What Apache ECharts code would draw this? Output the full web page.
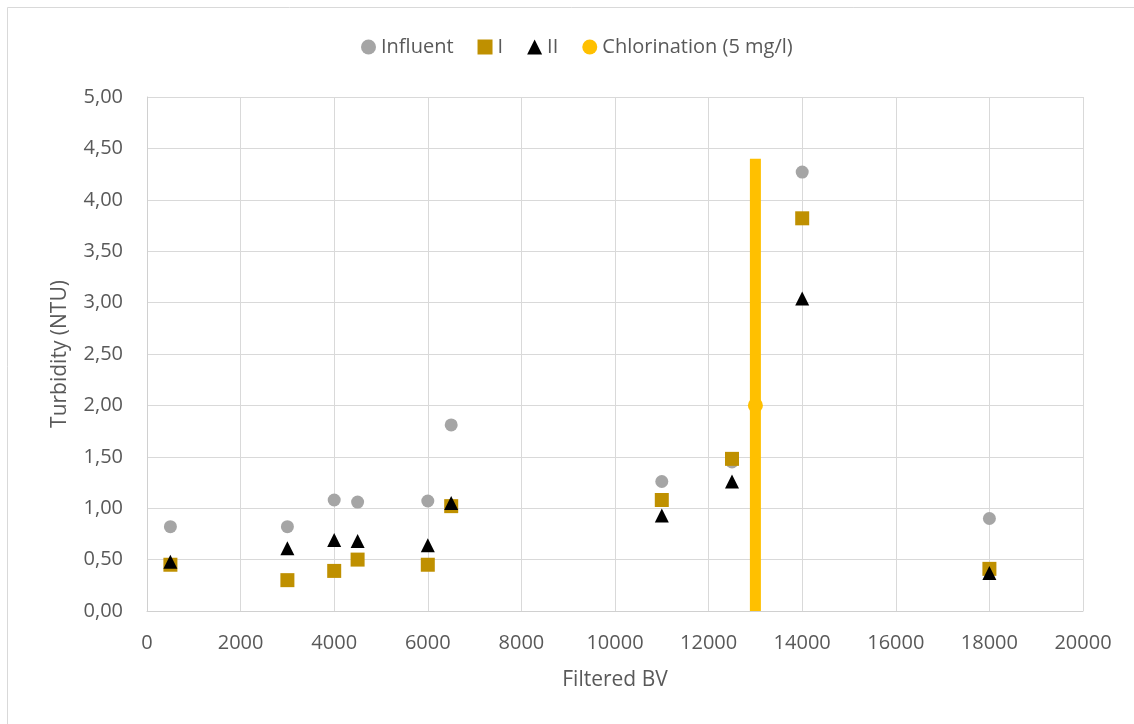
<!DOCTYPE html>
<html><head><meta charset="utf-8">
<script src="https://cdn.jsdelivr.net/npm/echarts@6/dist/echarts.min.js"></script>
<style>html,body{margin:0;padding:0;background:#fff}#c{width:1134px;height:724px}</style>
</head><body><div id="c"></div>
<script>
const bv = [500, 3000, 4000, 4500, 6000, 6500, 11000, 12500, 14000, 18000];
const influent = [0.82, 0.82, 1.08, 1.06, 1.07, 1.81, 1.26, 1.45, 4.27, 0.90];
const seriesI = [0.45, 0.30, 0.39, 0.50, 0.45, 1.02, 1.08, 1.48, 3.82, 0.41];
const seriesII = [0.48, 0.61, 0.69, 0.68, 0.64, 1.05, 0.93, 1.26, 3.04, 0.37];
const chlorX = 13000;
const chlorValue = 2.00;
const chlorLow = 0.00;
const chlorHigh = 4.40;

const pairs = (xs, ys) => xs.map((x, i) => [x, ys[i]]);
const font = 'Open Sans, Liberation Sans, sans-serif';
const txt = '#595959';

const chart = echarts.init(document.getElementById('c'));
chart.setOption({
  animation: false,
  backgroundColor: '#fff',
  graphic: [{ type: 'rect', shape: { x: 7.5, y: 7.5, width: 1140, height: 720 }, style: { fill: 'none', stroke: '#d9d9d9', lineWidth: 1 }, silent: true }],
  legend: {
    top: 32, left: 356, itemGap: 24, itemWidth: 15, itemHeight: 15,
    textStyle: { fontFamily: font, fontSize: 20, color: txt },
    data: [
      { name: 'Influent', icon: 'circle' },
      { name: 'I', icon: 'rect' },
      { name: 'II', icon: 'triangle' },
      { name: 'Chlorination (5 mg/l)', icon: 'circle' }
    ]
  },
  grid: { left: 147, right: 51, top: 97, bottom: 113, containLabel: false },
  xAxis: {
    type: 'value', min: 0, max: 20000, interval: 2000,
    name: 'Filtered BV', nameLocation: 'middle', nameGap: 59,
    nameTextStyle: { fontFamily: font, fontSize: 21, color: txt },
    axisLine: { show: true, lineStyle: { color: '#d0d0d0', width: 1 } },
    axisTick: { show: false },
    axisLabel: { fontFamily: font, fontSize: 20, color: txt, margin: 22, formatter: v => String(v) },
    splitLine: { show: true, lineStyle: { color: '#d9d9d9', width: 1 } }
  },
  yAxis: {
    type: 'value', min: 0, max: 5, interval: 0.5,
    name: 'Turbidity (NTU)', nameLocation: 'middle', nameGap: 76, nameRotate: 90,
    nameTextStyle: { fontFamily: font, fontSize: 21, color: txt },
    axisLine: { show: true, lineStyle: { color: '#d0d0d0', width: 1 } },
    axisTick: { show: false },
    axisLabel: { fontFamily: font, fontSize: 20, color: txt, margin: 24,
      formatter: v => v.toFixed(2).replace('.', ',') },
    splitLine: { show: true, lineStyle: { color: '#d9d9d9', width: 1 } }
  },
  series: [
    { name: 'Influent', type: 'scatter', symbol: 'circle', symbolSize: 13,
      itemStyle: { color: '#A5A5A5', opacity: 1 }, data: pairs(bv, influent), z: 2 },
    { name: 'Chlorination (5 mg/l)', type: 'line', symbol: 'none',
      lineStyle: { color: '#FFC000', width: 11 }, itemStyle: { color: '#FFC000' },
      data: [[chlorX, chlorLow], [chlorX, chlorHigh]], z: 3 },
    { name: 'Chlorination (5 mg/l)', type: 'scatter', symbol: 'circle', symbolSize: 15,
      itemStyle: { color: '#FFC000', opacity: 1 }, data: [[chlorX, chlorValue]], z: 4 },
    { name: 'I', type: 'scatter', symbol: 'rect', symbolSize: 14,
      itemStyle: { color: '#BF9000', opacity: 1 }, data: pairs(bv, seriesI), z: 5 },
    { name: 'II', type: 'scatter', symbol: 'triangle', symbolSize: 14,
      itemStyle: { color: '#000000', opacity: 1 }, data: pairs(bv, seriesII), z: 6 }
  ]
});
</script></body></html>
